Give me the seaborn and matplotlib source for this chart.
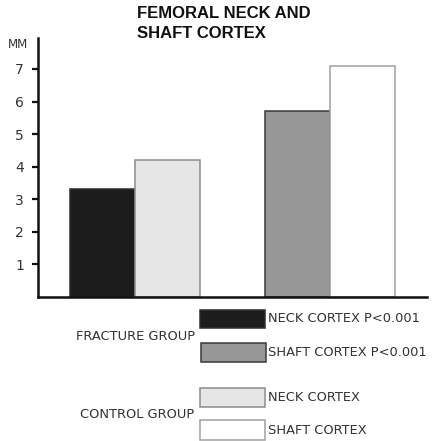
import matplotlib
matplotlib.use("Agg")
import matplotlib.pyplot as plt
import pandas as pd
import seaborn as sns
from matplotlib.patches import Rectangle

# Values (mm)
sites = ["Neck", "Shaft"]
groups = ["Fracture", "Control"]
fracture_mm = [3.3, 5.7]
control_mm = [4.2, 7.1]
y_ticks = [1, 2, 3, 4, 5, 6, 7]
legend_labels = ["NECK CORTEX P<0.001", "SHAFT CORTEX P<0.001", "NECK CORTEX", "SHAFT CORTEX"]
group_labels = ["FRACTURE GROUP", "CONTROL GROUP"]

# fill / edge per bar: fracture neck, fracture shaft, control neck, control shaft
fills = ["#1c1c1c", "#979797", "#e6e6e6", "#ffffff"]
edges = ["#2e2e2e", "#3a3a3a", "#8c8c8c", "#a0a0a0"]

W, H = 436, 441


def fig_xy(x, y):
    return x / W, 1 - y / H


df = pd.DataFrame({
    "site": sites * 2,
    "group": [groups[0]] * 2 + [groups[1]] * 2,
    "mm": fracture_mm + control_mm,
})

sns.set_style("white")
plt.rcParams["font.family"] = ["DejaVu Sans"]

fig = plt.figure(figsize=(W / 100, H / 100), dpi=100)
ax = fig.add_axes([38 / W, 1 - 297 / H, (427 - 38) / W, (297 - 38) / H])

sns.barplot(data=df, x="site", y="mm", hue="group", order=sites, hue_order=groups,
            width=2 / 3, errorbar=None, legend=False, ax=ax)

for patch, fc, ec in zip(ax.patches, fills, edges):
    patch.set_facecolor(fc)
    patch.set_edgecolor(ec)
    patch.set_linewidth(1.1)

ax.set_xlim(-0.5, 1.5)
ax.set_ylim(0, 7.95)
ax.set_yticks(y_ticks)
ax.set_yticklabels([str(t) for t in y_ticks], fontsize=10, color="#333333")
ax.set_xticks([])
ax.set_xlabel("")
ax.set_ylabel("")
ax.tick_params(axis="y", direction="out", length=4, width=1.6, color="#111111", pad=6, left=True)

for side in ["top", "right"]:
    ax.spines[side].set_visible(False)
for side in ["left", "bottom"]:
    ax.spines[side].set_linewidth(1.8)
    ax.spines[side].set_color("#111111")

# title and unit
fig.text(*fig_xy(137, 6), "FEMORAL NECK AND\nSHAFT CORTEX", ha="left", va="top",
         fontsize=12, fontweight="bold", linespacing=1.4, color="#111111",
         family=["Liberation Sans Narrow", "Liberation Sans", "DejaVu Sans"])
fig.text(*fig_xy(8, 44), "MM", ha="left", va="center", fontsize=8.5, color="#333333")

# custom legend below the axis
boxes = [(200, 310, 328), (201, 343, 362), (200, 388, 407), (200, 420, 440)]
for (x0, y0, y1), fc, ec, lab in zip(boxes, fills, edges, legend_labels):
    fx, fy = fig_xy(x0, y1)
    fig.add_artist(Rectangle((fx, fy), 65 / W, (y1 - y0) / H, transform=fig.transFigure,
                             facecolor=fc, edgecolor=ec, linewidth=1.1))
    fig.text(*fig_xy(268, (y0 + y1) / 2), lab, ha="left", va="center", fontsize=9.4, color="#333333")

fig.text(*fig_xy(195, 336), group_labels[0], ha="right", va="center", fontsize=9.4, color="#333333")
fig.text(*fig_xy(194, 414), group_labels[1], ha="right", va="center", fontsize=9.4, color="#333333")

fig.savefig("out.png", dpi=100)
